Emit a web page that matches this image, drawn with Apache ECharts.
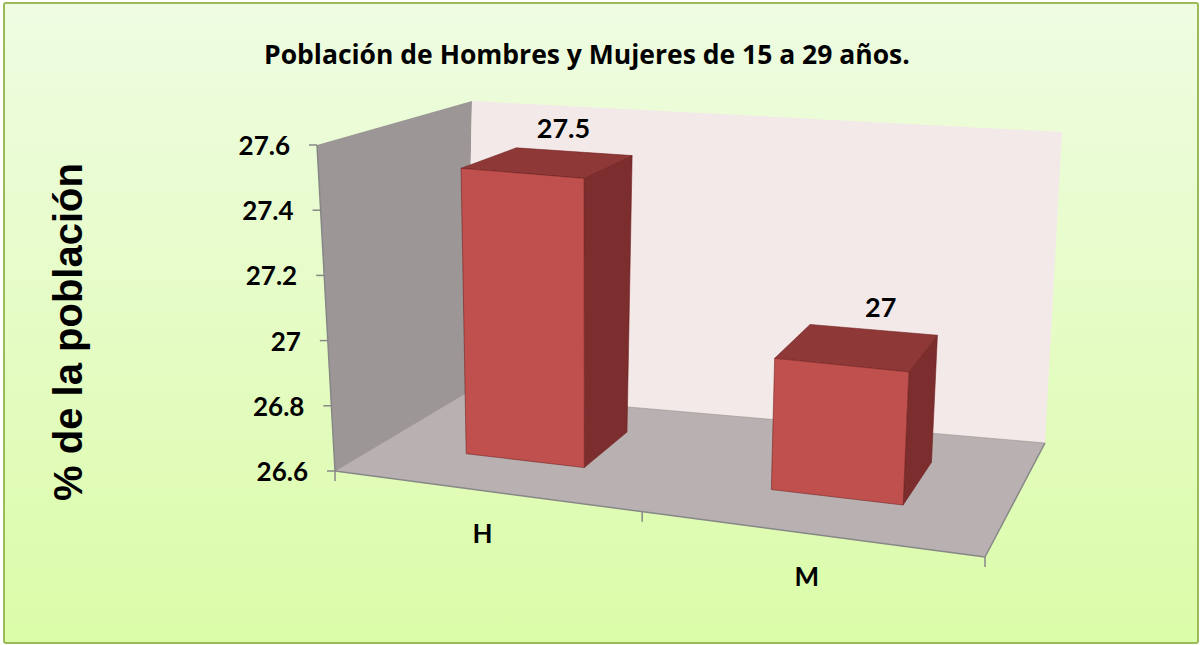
<!DOCTYPE html>
<html>
<head>
<meta charset="utf-8">
<script src="https://cdn.jsdelivr.net/npm/echarts@6/dist/echarts.min.js"></script>
<style>
html,body{margin:0;padding:0;background:#ffffff;}
#chart{width:1201px;height:645px;}
</style>
</head>
<body>
<div id="chart"></div>
<script>
// ---------------- data ----------------
const chartTitle = 'Población de Hombres y Mujeres de 15 a 29 años.';
const yAxisTitle = '% de la población';
const categories = ['H', 'M'];
const values = [27.5, 27];
const valueLabels = ['27.5', '27'];
const yTicks = [26.6, 26.8, 27, 27.2, 27.4, 27.6];

// ---------------- 3D projection layout ----------------
const CORNERS = {
  FL: { b: [335, 471], t: [317, 145] },
  FR: { b: [985, 557], t: [1005, 207] },
  BL: { b: [466, 393], t: [472, 101] },
  BR: { b: [1045, 443], t: [1062, 132] }
};
const K_U = 1.116, K_Z = 0.796;
const BAR_FRACTION = 0.4, Z_FRONT = 0.3, Z_BACK = 0.7;
const FONT = 'Lato, "Open Sans", sans-serif';
const TITLE_FONT = '"Open Sans", Lato, sans-serif';

function project(u, v, z) {
  const su = u / (K_U - (K_U - 1) * u);
  const sz = z / (K_Z + (1 - K_Z) * z);
  const w = [(1 - su) * (1 - sz), su * (1 - sz), (1 - su) * sz, su * sz];
  const cs = [CORNERS.FL, CORNERS.FR, CORNERS.BL, CORNERS.BR];
  let bx = 0, by = 0, vx = 0, vy = 0;
  for (let i = 0; i < 4; i++) {
    bx += w[i] * cs[i].b[0]; by += w[i] * cs[i].b[1];
    vx += w[i] * (cs[i].t[0] - cs[i].b[0]); vy += w[i] * (cs[i].t[1] - cs[i].b[1]);
  }
  return [bx + v * vx, by + v * vy];
}
function poly(pts, fill, stroke, lw) {
  return { type: 'polygon', shape: { points: pts }, style: { fill: fill, stroke: stroke || null, lineWidth: lw || 0 } };
}
function seg(a, b, color, lw) {
  return { type: 'line', shape: { x1: a[0], y1: a[1], x2: b[0], y2: b[1] }, style: { stroke: color, lineWidth: lw } };
}

const yMin = yTicks[0], yMax = yTicks[yTicks.length - 1];

function renderFrame(params, api) {
  const cs = params.coordSys;
  const P = project;
  const ch = [];
  ch.push(poly([P(0, 0, 0), P(0, 1, 0), P(0, 1, 1), P(0, 0, 1)], '#9c9696'));
  ch.push(poly([P(0, 0, 1), P(0, 1, 1), P(1, 1, 1), P(1, 0, 1)], '#f4e9e9'));
  ch.push(poly([P(0, 0, 0), P(1, 0, 0), P(1, 0, 1), P(0, 0, 1)], '#b9b1b1'));
  ch.push(seg(P(0, 0, 0), P(0, 0, 1), 'rgba(140,134,134,0.6)', 1));
  ch.push(seg(P(0, 0, 1), P(1, 0, 1), 'rgba(140,134,134,0.5)', 1));
  // value axis line + ticks
  ch.push(seg(P(0, 0, 0), P(0, 1, 0), '#878787', 1.5));
  yTicks.forEach(function (t) {
    const v = (cs.y + cs.height - api.coord([0, t])[1]) / cs.height;
    const p = P(0, v, 0);
    ch.push(seg([p[0] - 8, p[1]], p, '#878787', 1.5));
  });
  // floor front / right edges
  ch.push(seg(P(0, 0, 0), P(1, 0, 0), '#878787', 1.5));
  ch.push(seg(P(1, 0, 0), P(1, 0, 1), '#878787', 1.5));
  // category ticks and labels
  const band = api.size([1, 0])[0];
  const bounds = [];
  categories.forEach(function (c, i) {
    const x = api.coord([i, yMin])[0];
    if (i === 0) bounds.push((x - band / 2 - cs.x) / cs.width);
    bounds.push((x + band / 2 - cs.x) / cs.width);
    const p = P((x - cs.x) / cs.width, 0, 0);
    ch.push({ type: 'text', style: { text: c, x: p[0] - 2, y: p[1] + 42, align: 'center', verticalAlign: 'middle',
      fill: '#000', font: 'bold 26px ' + FONT } });
  });
  bounds.forEach(function (u) {
    const p = P(u, 0, 0);
    ch.push(seg(p, [p[0], p[1] + 10], '#878787', 1.5));
  });
  return { type: 'group', children: ch };
}

function renderBar(params, api) {
  const cs = params.coordSys;
  const idx = api.value(0), val = api.value(1);
  const c = api.coord([idx, val]);
  const c0 = api.coord([idx, yMin]);
  const band = api.size([1, 0])[0];
  const uc = (c[0] - cs.x) / cs.width;
  const hw = BAR_FRACTION * band / 2 / cs.width;
  const v = (c0[1] - c[1]) / cs.height;
  const u0 = uc - hw, u1 = uc + hw;
  const P = project;
  const edge = 'rgba(110,30,28,0.55)';
  const ch = [];
  ch.push(poly([P(u1, 0, Z_FRONT), P(u1, 0, Z_BACK), P(u1, v, Z_BACK), P(u1, v, Z_FRONT)], '#7b2e2d', edge, 1));
  ch.push(poly([P(u0, v, Z_FRONT), P(u1, v, Z_FRONT), P(u1, v, Z_BACK), P(u0, v, Z_BACK)], '#8f3838', edge, 1));
  ch.push(poly([P(u0, 0, Z_FRONT), P(u1, 0, Z_FRONT), P(u1, v, Z_FRONT), P(u0, v, Z_FRONT)], '#c0504d', edge, 1));
  const top = P(uc, v, (Z_FRONT + Z_BACK) / 2);
  const t = (uc - 0.25) / 0.5;
  ch.push({ type: 'text', style: { text: valueLabels[params.dataIndex], x: top[0] + 14.5 + 8.5 * t, y: top[1] - 34 - 6 * t,
    align: 'center', verticalAlign: 'middle', fill: '#000', font: 'bold 27px ' + FONT } });
  return { type: 'group', children: ch };
}

const rich = {};
yTicks.forEach(function (t, i) {
  rich['t' + i] = { fontFamily: FONT, fontWeight: 'bold', fontSize: 26, color: '#000',
    padding: [0, 18 * (t - yMin) / (yMax - yMin), 0, 0] };
});

const chart = echarts.init(document.getElementById('chart'), null, { renderer: 'svg' });
chart.setOption({
  animation: false,
  graphic: [{
    type: 'rect', z: -100, silent: true,
    shape: { x: 4, y: 3, width: 1194, height: 640, r: 2 },
    style: {
      fill: { type: 'linear', x: 0, y: 0, x2: 0, y2: 1, colorStops: [
        { offset: 0, color: '#effce2' }, { offset: 1, color: '#dbfca8' }] },
      stroke: '#9bbb59', lineWidth: 2
    }
  }],
  title: {
    text: chartTitle, left: 264, top: 40, padding: 0,
    textStyle: { fontFamily: TITLE_FONT, fontWeight: 'bold', fontSize: 26.5, color: '#000' }
  },
  grid: { left: 326, top: 145, width: 640, height: 326 },
  xAxis: {
    type: 'category', data: categories,
    axisLine: { show: false }, axisTick: { show: false }, axisLabel: { show: false }, splitLine: { show: false }
  },
  yAxis: {
    type: 'value', min: yMin, max: yMax, interval: 0.2,
    axisLine: { show: false }, axisTick: { show: false }, splitLine: { show: false },
    axisLabel: {
      margin: 18, fontFamily: FONT, fontWeight: 'bold', fontSize: 26, color: '#000',
      formatter: function (value) {
        let best = 0;
        yTicks.forEach(function (t, i) { if (Math.abs(t - value) < Math.abs(yTicks[best] - value)) best = i; });
        return '{t' + best + '|' + yTicks[best] + '}';
      },
      rich: rich
    },
    name: yAxisTitle, nameLocation: 'middle', nameRotate: 90, nameGap: 238,
    nameTextStyle: { fontFamily: '"Liberation Sans", Arial, sans-serif', fontWeight: 'bold',
      fontSize: 40, color: '#000', padding: [0, 48, 0, 0] }
  },
  series: [
    { type: 'custom', name: 'frame', coordinateSystem: 'cartesian2d', silent: true, clip: false, z: 1,
      renderItem: renderFrame, data: [[0, yMin]] },
    { type: 'custom', name: 'valores', coordinateSystem: 'cartesian2d', clip: false, z: 2,
      renderItem: renderBar, data: values.map(function (v, i) { return [i, v]; }) }
  ]
});
</script>
</body>
</html>
